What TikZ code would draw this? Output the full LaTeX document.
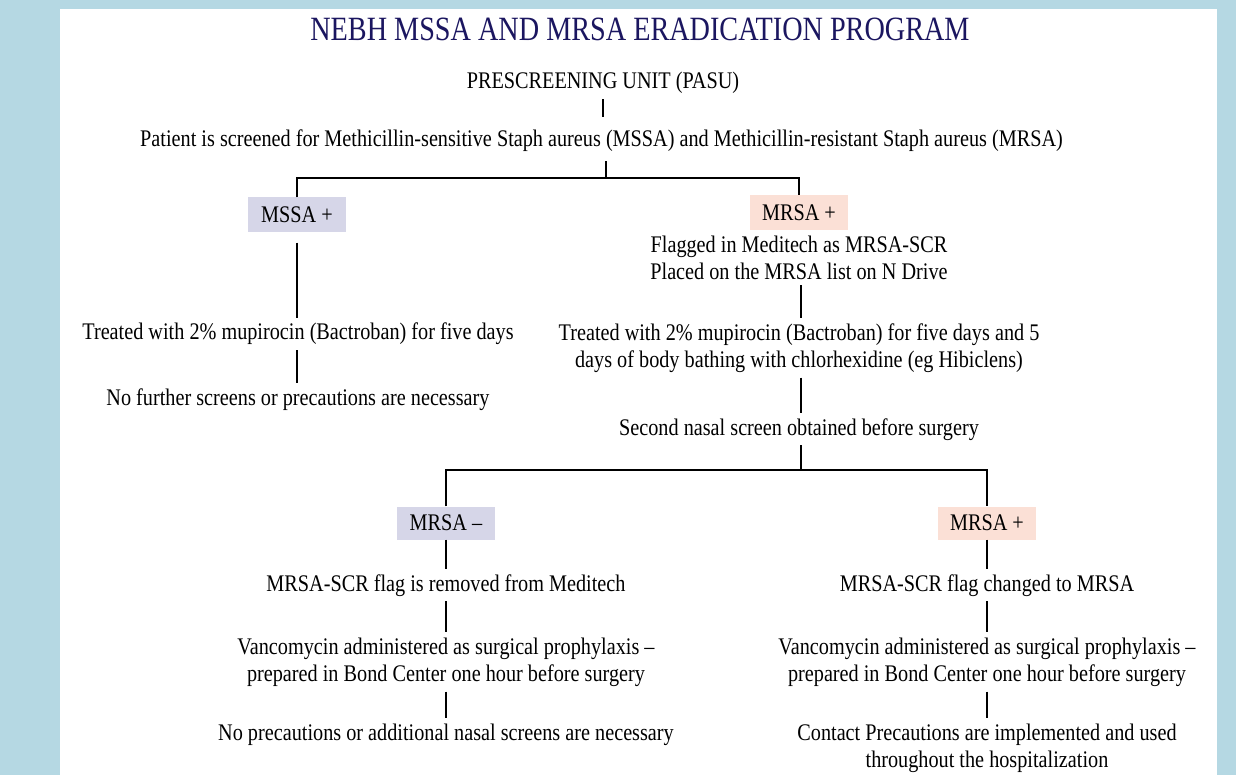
\documentclass[tikz,border=0pt]{standalone}
\usepackage{fontspec}
\setmainfont{Liberation Serif}[FakeStretch=0.85]
\newfontfamily\titlefont{Liberation Serif}[FakeStretch=0.83]
\definecolor{bgblue}{RGB}{181,216,227}
\definecolor{navy}{RGB}{27,22,96}
\definecolor{lavender}{RGB}{214,214,232}
\definecolor{peach}{RGB}{251,224,214}
\begin{document}
\begin{tikzpicture}[x=1pt,y=-1pt,
  txt/.style={font=\fontsize{23.8}{27}\selectfont, align=center, inner xsep=2pt, inner ysep=5pt},
  onel/.style={txt, anchor=base},
  tag/.style={font=\fontsize{23.8}{27}\selectfont, inner sep=0pt, minimum width=98pt, minimum height=35pt},
  negtag/.style={tag, fill=lavender},
  postag/.style={tag, fill=peach},
  conn/.style={draw=black, line width=1.4pt}]
\fill[bgblue] (0,0) rectangle (1236,775);
\fill[white] (60,9) rectangle (1217,775);
\useasboundingbox (0,0) rectangle (1236,775);

\node[anchor=base, font=\titlefont\fontsize{34}{38}\selectfont, text=navy, inner sep=0pt] (title) at (640,41) {NEBH MSSA AND MRSA ERADICATION PROGRAM};

\node[onel] (pasu) at (603,89) {PRESCREENING UNIT (PASU)};
\node[onel] (patient) at (601.5,147) {Patient is screened for Methicillin-sensitive Staph aureus (MSSA) and Methicillin-resistant Staph aureus (MRSA)};
\coordinate (j1) at (606,178);

\node[negtag] (mssa) at (297,215) {MSSA +};
\node[postag] (mrsa) at (799,213) {MRSA +};
\node[txt] (flag) at (799,258) {Flagged in Meditech as MRSA-SCR\\Placed on the MRSA list on N Drive};

\node[onel] (treatL) at (298,340) {Treated with 2\% mupirocin (Bactroban) for five days};
\node[onel] (nofur) at (298,405) {No further screens or precautions are necessary};

\node[txt] (treatR) at (799,348) {Treated with 2\% mupirocin (Bactroban) for five days and 5\\days of body bathing with chlorhexidine (eg Hibiclens)};
\node[onel] (second) at (799,435) {Second nasal screen obtained before surgery};
\coordinate (j2) at (801,470);

\node[negtag, minimum height=33pt] (neg) at (446,523) {MRSA –};
\node[postag, minimum height=33pt] (pos) at (987,523) {MRSA +};

\node[onel] (removed) at (446,591) {MRSA-SCR flag is removed from Meditech};
\node[txt] (vancoL) at (446,662) {Vancomycin administered as surgical prophylaxis –\\prepared in Bond Center one hour before surgery};
\node[onel] (noprec) at (446,740) {No precautions or additional nasal screens are necessary};

\node[onel] (changed) at (987,591) {MRSA-SCR flag changed to MRSA};
\node[txt] (vancoR) at (987,662) {Vancomycin administered as surgical prophylaxis –\\prepared in Bond Center one hour before surgery};
\node[txt] (contact) at (987,748) {Contact Precautions are implemented and used\\throughout the hospitalization};

% connectors
\draw[conn, shorten >=8pt] (pasu.south) -- (pasu.south |- patient.north);
\draw[conn, shorten <=4pt] (patient.south -| j1) -- (j1);
\draw[conn] (mssa.north) -- (mssa.north |- j1) -- (mrsa.north |- j1) -- (mrsa.north);
\draw[conn, shorten <=10pt] (mssa.south) -- (mssa.south |- treatL.north);
\draw[conn] (treatL.south -| mssa.south) -- (mssa.south |- nofur.north);
\draw[conn] (flag.south -| j2) -- (j2 |- treatR.north);
\draw[conn] (treatR.south -| j2) -- (j2 |- second.north);
\draw[conn] (second.south -| j2) -- (j2);
\draw[conn] (neg.north) -- (neg.north |- j2) -- (pos.north |- j2) -- (pos.north);
\draw[conn] (neg.south) -- (neg.south |- removed.north);
\draw[conn] (removed.south -| neg.south) -- (neg.south |- vancoL.north);
\draw[conn] (vancoL.south -| neg.south) -- (neg.south |- noprec.north);
\draw[conn] (pos.south) -- (pos.south |- changed.north);
\draw[conn] (changed.south -| pos.south) -- (pos.south |- vancoR.north);
\draw[conn] (vancoR.south -| pos.south) -- (pos.south |- contact.north);
\end{tikzpicture}
\end{document}
